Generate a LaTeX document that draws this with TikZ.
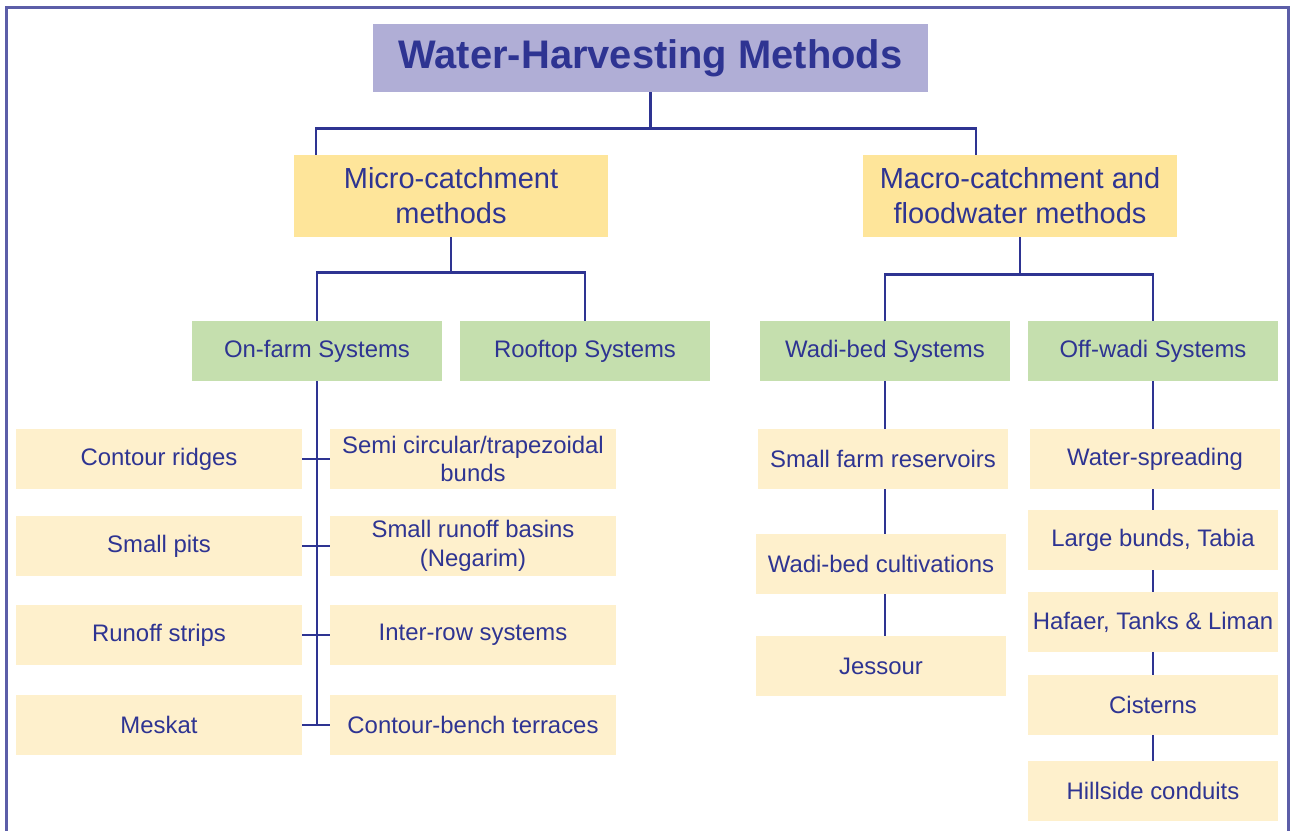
\documentclass[tikz,border=0pt]{standalone}
\usepackage{fontspec}
\setmainfont{Liberation Sans}
\usetikzlibrary{positioning}

\definecolor{ink}{RGB}{46,52,146}
\definecolor{framec}{RGB}{92,94,168}
\definecolor{titlefill}{RGB}{176,174,214}
\definecolor{methfill}{RGB}{254,229,154}
\definecolor{sysfill}{RGB}{197,223,174}
\definecolor{leaffill}{RGB}{254,240,204}

\tikzset{
  link/.style={draw=ink, line width=1.6pt},
  titlebox/.style={fill=titlefill, text=ink, inner sep=0pt, minimum width=11.1cm, minimum height=1.36cm,
    font=\fontsize{22.7}{27}\selectfont\bfseries},
  methbox/.style={fill=methfill, text=ink, inner sep=0pt, align=center, minimum width=6.28cm, minimum height=1.64cm,
    font=\fontsize{16.5}{19.9}\selectfont},
  sysbox/.style={fill=sysfill, text=ink, inner sep=0pt, minimum width=5cm, minimum height=1.2cm,
    font=\fontsize{13.6}{16.3}\selectfont},
  leafbox/.style={fill=leaffill, text=ink, inner sep=0pt, align=center, minimum width=5.72cm, minimum height=1.2cm,
    font=\fontsize{13.6}{16.3}\selectfont},
  wadileaf/.style={leafbox, minimum width=5cm}
}

\begin{document}
\begin{tikzpicture}[x=0.02cm, y=-0.02cm]
    \useasboundingbox (0,0) rectangle (1292,831);
    \clip (0,0) rectangle (1292,831);
    \draw [framec, line width=1.2pt] (6.5,7.5) rectangle (1288.5,850);

    % top levels
    \node [titlebox] (title) at (650.5,58) {Water-Harvesting Methods};
    \node [methbox] (micro) at (451,196) {Micro-catchment\\methods};
    \node [methbox] (macro) at (1020,196) {Macro-catchment and\\floodwater methods};

    \node [sysbox] (onfarm) at (317,351) {On-farm Systems};
    \node [sysbox] (rooftop) at (585,351) {Rooftop Systems};
    \node [sysbox] (wadibed) at (885,351) {Wadi-bed Systems};
    \node [sysbox] (offwadi) at (1153,351) {Off-wadi Systems};

    % on-farm leaves
    \node [leafbox] (l1) at (159,459) {Contour ridges};
    \node [leafbox] (l2) at (159,546) {Small pits};
    \node [leafbox] (l3) at (159,635) {Runoff strips};
    \node [leafbox] (l4) at (159,725) {Meskat};
    \node [leafbox] (r1) at (473,459) {Semi circular/trapezoidal\\bunds};
    \node [leafbox] (r2) at (473,546) {Small runoff basins\\(Negarim)};
    \node [leafbox] (r3) at (473,635) {Inter-row systems};
    \node [leafbox] (r4) at (473,725) {Contour-bench terraces};

    % wadi-bed leaves
    \node [wadileaf] (w1) at (883,459) {Small farm reservoirs};
    \node [wadileaf] (w2) at (881,564) {Wadi-bed cultivations};
    \node [wadileaf] (w3) at (881,666) {Jessour};

    % off-wadi leaves
    \node [wadileaf] (o1) at (1155,459) {Water-spreading};
    \node [wadileaf] (o2) at (1153,540) {Large bunds, Tabia};
    \node [wadileaf] (o3) at (1153,622) {Hafaer, Tanks \& Liman};
    \node [wadileaf] (o4) at (1153,705) {Cisterns};
    \node [wadileaf] (o5) at (1153,791) {Hillside conduits};

    % connectors
    \coordinate (mi) at (316,155);
    \coordinate (ma) at (976,155);
    \draw [link] (title.south) -- ++(0,36) coordinate (t1);
    \draw [link] (mi) |- (t1) -| (ma);

    \draw [link] (micro.south) -- ++(0,35) coordinate (m1);
    \draw [link] (onfarm.north) |- (m1) -| (rooftop.north);

    \draw [link] (macro.south) -- ++(0,37) coordinate (m2);
    \draw [link] (wadibed.north) |- (m2) -| (offwadi.north);

    \draw [link] (onfarm.south) -- (onfarm.south |- r4.west);
    \foreach \n in {1, 2, 3, 4} {
      \draw [link] (l\n.east) -- (r\n.west);
    }

    \draw [link] (wadibed.south) -- (wadibed.south |- w1.north);
    \draw [link] (wadibed.south |- w1.south) -- (wadibed.south |- w2.north);
    \draw [link] (wadibed.south |- w2.south) -- (wadibed.south |- w3.north);

    \draw [link] (offwadi.south) -- (offwadi.south |- o1.north);
    \foreach \a/\b in {o1/o2, o2/o3, o3/o4, o4/o5} {
      \draw [link] (offwadi.south |- \a.south) -- (offwadi.south |- \b.north);
    }
\end{tikzpicture}
\end{document}
